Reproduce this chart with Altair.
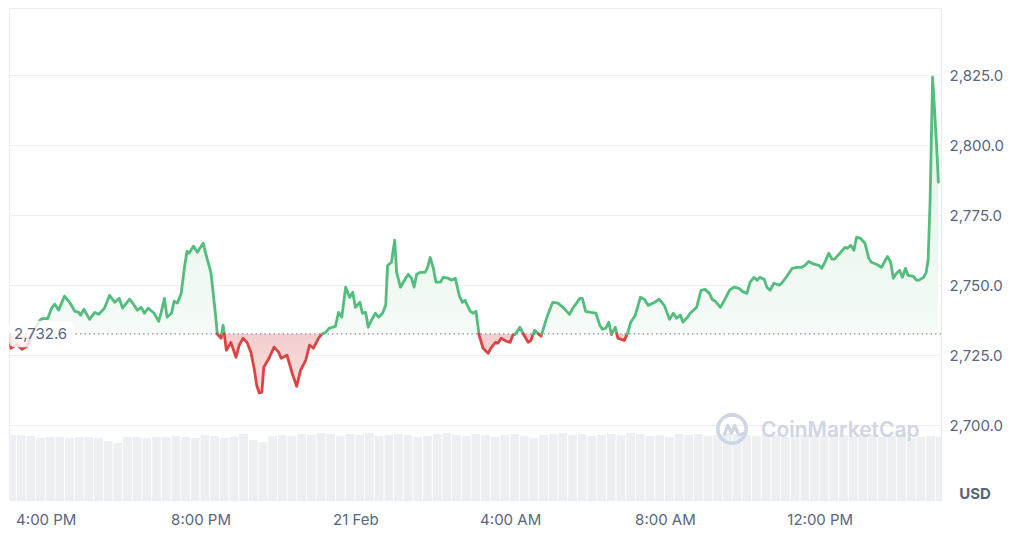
import altair as alt
import pandas as pd

# ---------------- data ----------------
BASE = 2732.6  # opening / reference price (dotted line)

# minutes after 20 Feb 15:00 (UTC)
minutes = [
    3, 6, 15, 23, 31, 37, 45, 51, 55, 63,
    69, 74, 80, 89, 97, 105, 111, 114, 119, 128,
    136, 142, 151, 159, 167, 174, 179, 190, 194, 202,
    208, 213, 219, 228, 235, 239, 244, 248, 255, 259,
    264, 270, 275, 279, 282, 289, 295, 299, 304, 310,
    316, 323, 326, 332, 335, 340, 347, 355, 360, 366,
    372, 378, 383, 387, 391, 395, 398, 406, 414, 421,
    425, 434, 442, 449, 455, 463, 469, 475, 483, 488,
    494, 499, 509, 514, 519, 525, 531, 536, 540, 547,
    551, 556, 560, 565, 571, 576, 582, 587, 590, 596,
    601, 604, 610, 618, 622, 627, 631, 635, 641, 648,
    652, 656, 661, 665, 672, 676, 684, 689, 695, 701,
    706, 710, 718, 723, 727, 732, 738, 746, 750, 757,
    761, 766, 774, 780, 784, 789, 795, 800, 808, 812,
    818, 823, 828, 834, 838, 846, 854, 862, 872, 877,
    883, 888, 892, 897, 905, 913, 919, 923, 928, 933,
    937, 943, 947, 957, 962, 967, 974, 982, 988, 994,
    1004, 1011, 1019, 1027, 1033, 1038, 1044, 1048, 1055, 1059,
    1069, 1076, 1082, 1089, 1093, 1098, 1106, 1112, 1120, 1127,
    1135, 1140, 1147, 1152, 1158, 1163, 1167, 1174, 1178, 1183,
    1189, 1197, 1201, 1209, 1217, 1225, 1232, 1237, 1243, 1251,
    1259, 1263, 1268, 1274, 1279, 1283, 1291, 1299, 1303, 1308,
    1313, 1317, 1323, 1330, 1336, 1340, 1348, 1356, 1360, 1365,
    1370, 1374, 1379, 1384, 1388, 1393, 1397, 1405, 1410, 1414,
    1421, 1425, 1428, 1431, 1435, 1438, 1441, 1444,
]

prices = [
    2732.6, 2727.5, 2728.9, 2727.1, 2728.2, 2731.8, 2735.3, 2737.5, 2738.1, 2738.1,
    2741.8, 2743.2, 2741.1, 2746.1, 2743.9, 2740.7, 2740.3, 2739.3, 2741.4, 2737.8,
    2740.3, 2739.6, 2741.8, 2746.4, 2743.9, 2745.3, 2741.8, 2745.0, 2743.9, 2741.1,
    2742.1, 2740.0, 2741.8, 2740.0, 2737.1, 2740.3, 2745.3, 2738.6, 2740.0, 2744.3,
    2743.6, 2747.1, 2756.4, 2762.1, 2761.4, 2763.9, 2761.8, 2763.2, 2765.0, 2759.6,
    2754.6, 2740.0, 2732.5, 2731.1, 2735.7, 2726.8, 2729.6, 2724.3, 2728.6, 2731.1,
    2729.6, 2726.1, 2720.4, 2714.3, 2711.5, 2711.8, 2720.7, 2723.9, 2727.9, 2726.1,
    2723.9, 2725.0, 2718.6, 2713.9, 2719.6, 2723.2, 2728.6, 2727.5, 2731.1, 2732.5,
    2733.2, 2734.6, 2735.3, 2740.3, 2738.6, 2749.3, 2745.7, 2747.5, 2742.1, 2743.9,
    2740.0, 2740.3, 2735.0, 2737.5, 2740.0, 2738.6, 2740.0, 2742.8, 2757.1, 2758.2,
    2766.1, 2754.6, 2749.3, 2752.5, 2753.9, 2752.5, 2749.3, 2753.9, 2754.6, 2754.6,
    2756.4, 2759.9, 2756.0, 2751.1, 2751.1, 2752.8, 2752.5, 2751.8, 2752.5, 2746.4,
    2743.9, 2744.6, 2740.7, 2740.0, 2740.7, 2732.1, 2727.5, 2725.7, 2727.5, 2729.6,
    2729.3, 2731.1, 2730.0, 2729.6, 2732.1, 2732.8, 2735.0, 2732.8, 2729.6, 2730.3,
    2733.9, 2732.8, 2731.8, 2736.4, 2739.3, 2743.9, 2743.6, 2742.1, 2739.6, 2741.8,
    2743.6, 2745.3, 2745.3, 2740.7, 2740.3, 2740.0, 2735.7, 2734.3, 2734.6, 2736.8,
    2732.4, 2735.0, 2731.1, 2730.3, 2732.8, 2736.8, 2739.3, 2745.7, 2745.0, 2742.8,
    2743.9, 2745.0, 2742.8, 2737.8, 2740.0, 2738.2, 2739.3, 2736.8, 2738.6, 2740.0,
    2742.1, 2748.2, 2748.5, 2747.1, 2745.0, 2744.3, 2742.1, 2744.6, 2748.2, 2749.3,
    2748.9, 2747.8, 2747.1, 2751.1, 2752.8, 2751.8, 2752.8, 2752.1, 2749.3, 2748.2,
    2750.7, 2750.0, 2750.7, 2753.2, 2756.0, 2756.4, 2756.4, 2757.1, 2758.5, 2757.5,
    2757.1, 2756.0, 2758.2, 2761.4, 2759.3, 2759.3, 2761.4, 2763.5, 2763.2, 2764.3,
    2762.5, 2767.1, 2766.8, 2765.0, 2759.6, 2758.2, 2757.5, 2756.4, 2758.2, 2760.3,
    2758.2, 2752.5, 2754.3, 2755.3, 2752.8, 2756.0, 2753.5, 2753.2, 2751.8, 2751.8,
    2752.8, 2754.6, 2758.9, 2779.3, 2824.3, 2812.5, 2800.7, 2786.8,
]
assert len(minutes) == len(prices)

# volume bars, one per 15 minutes (relative units, millions)
vol_step = 15
volumes = [
    6.5, 6.5, 6.4, 6.2, 6.3, 6.3, 6.2, 6.3, 6.3, 6.2,
    5.9, 5.7, 6.3, 6.3, 6.2, 6.3, 6.3, 6.4, 6.3, 6.2,
    6.5, 6.4, 6.2, 6.3, 6.6, 6.0, 5.8, 6.4, 6.5, 6.4,
    6.6, 6.5, 6.7, 6.6, 6.4, 6.6, 6.5, 6.7, 6.4, 6.5,
    6.6, 6.5, 6.3, 6.4, 6.6, 6.7, 6.5, 6.4, 6.6, 6.5,
    6.3, 6.5, 6.6, 6.4, 6.2, 6.5, 6.6, 6.7, 6.5, 6.6,
    6.4, 6.5, 6.6, 6.5, 6.7, 6.6, 6.4, 6.5, 6.3, 6.6,
    6.5, 6.6, 6.4, 6.5, 6.7, 6.6, 6.5, 6.4, 6.6, 6.5,
    6.3, 6.5, 6.6, 6.5, 6.4, 6.6, 6.5, 6.4, 6.6, 6.5,
    6.3, 6.4, 6.5, 6.2, 6.3, 6.4, 6.3,
]

tick_minutes = [60, 300, 540, 780, 1020, 1260]
tick_labels = ["4:00 PM", "8:00 PM", "21 Feb", "4:00 AM", "8:00 AM", "12:00 PM"]
y_ticks = [2700, 2725, 2750, 2775, 2800, 2825]

X_DOMAIN = [3, 1448]
Y_DOMAIN = [2673.3, 2849]

GREEN = "#52bd7c"
RED = "#de4343"
GRAY_TXT = "#58667e"
FONT = "Inter"

# ---------------- split the series at the reference line ----------------
rows = []
seg = 0
prev = None
for i, (m, p) in enumerate(zip(minutes, prices)):
    up = p >= BASE
    if i > 0 and up != prev:
        m0, p0 = minutes[i - 1], prices[i - 1]
        mc = m0 + (BASE - p0) / (p - p0) * (m - m0)
        rows.append(dict(m=mc, price=BASE, seg=seg, dir="up" if prev else "down"))
        seg += 1
        rows.append(dict(m=mc, price=BASE, seg=seg, dir="up" if up else "down"))
    rows.append(dict(m=m, price=p, seg=seg, dir="up" if up else "down"))
    prev = up

df = pd.DataFrame(rows)
df["hi"] = df["price"].clip(lower=BASE)
df["lo"] = df["price"].clip(upper=BASE)
df["base"] = BASE

vol_df = pd.DataFrame({
    "vm": [i * vol_step for i in range(len(volumes))],
    "vm2": [i * vol_step + vol_step - 1.5 for i in range(len(volumes))],
    "vol": volumes,
})

one = pd.DataFrame({"k": [0]})  # single row for annotation marks

# ---------------- encodings ----------------
label_expr = " : ".join(
    f"datum.value == {m} ? '{lab}'" for m, lab in zip(tick_minutes, tick_labels)
) + " : ''"


def x_enc(field="m:Q"):
    return alt.X(
        field,
        scale=alt.Scale(domain=X_DOMAIN, nice=False, zero=False),
        axis=alt.Axis(values=tick_minutes, labelExpr=label_expr, title=None,
                      grid=False, labelPadding=12, labelFlush=False),
    )


y_scale = alt.Scale(domain=Y_DOMAIN, nice=False, zero=False)
y_axis = alt.Axis(orient="right", values=y_ticks, format=",.1f", title=None,
                  grid=True, gridColor="#eceff3", labelPadding=8)

green_fill = alt.Gradient(
    gradient="linear",
    stops=[alt.GradientStop(color="#dcf1e3", offset=0),
           alt.GradientStop(color="#f6fbf7", offset=1)],
    x1=0, x2=0, y1=0, y2=1,
)
red_fill = alt.Gradient(
    gradient="linear",
    stops=[alt.GradientStop(color="#f4cdcd", offset=0),
           alt.GradientStop(color="#f9e1e1", offset=1)],
    x1=0, x2=0, y1=0, y2=1,
)

volume = alt.Chart(vol_df).mark_rect(color="#edeff3", clip=True).encode(
    x=x_enc("vm:Q"),
    x2="vm2:Q",
    y=alt.Y("vol:Q", scale=alt.Scale(domain=[0, 49.2], nice=False, zero=True), axis=None),
    y2=alt.datum(0),
)

base_chart = alt.Chart(df)

area_up = base_chart.mark_area(fill=green_fill, clip=True).encode(
    x=x_enc(),
    y=alt.Y("hi:Q", scale=y_scale, axis=y_axis),
    y2="base:Q",
)
area_dn = base_chart.mark_area(fill=red_fill, clip=True).encode(
    x=x_enc(),
    y=alt.Y("lo:Q", scale=y_scale, axis=y_axis),
    y2="base:Q",
)
ref_rule = alt.Chart(one).mark_rule(
    color="#8a919e", strokeDash=[1.5, 3], strokeWidth=1.2
).encode(y=alt.datum(BASE))

lines = base_chart.mark_line(
    strokeWidth=2.8, strokeJoin="round", strokeCap="round", clip=True
).encode(
    x=x_enc(),
    y=alt.Y("price:Q", scale=y_scale, axis=y_axis),
    color=alt.Color("dir:N", scale=alt.Scale(domain=["up", "down"], range=[GREEN, RED]),
                    legend=None),
    detail="seg:N",
)

# rounded white box behind the reference-price label (custom symbol shape)
BOX_SHAPE = ("M-0.82,-0.4 Q-1,-0.4 -1,-0.22 L-1,0.22 Q-1,0.4 -0.82,0.4 "
             "L0.82,0.4 Q1,0.4 1,0.22 L1,-0.22 Q1,-0.4 0.82,-0.4 Z")
label_box = alt.Chart(one).mark_point(
    shape=BOX_SHAPE, size=66 * 66, filled=True, fill="white", fillOpacity=0.8,
    strokeWidth=0, opacity=1,
).encode(x=alt.value(33), y=alt.datum(BASE))
label_txt = alt.Chart(one).mark_text(
    align="left", baseline="middle", fontSize=15, font=FONT, color=GRAY_TXT
).encode(
    x=alt.value(5), y=alt.datum(BASE), text=alt.value(f"{BASE:,.1f}"),
)

wm_ring = alt.Chart(one).mark_point(
    shape="circle", size=800, filled=False, stroke="#cfd6e3", strokeWidth=3.6, opacity=1
).encode(x=alt.value(723), y=alt.value(421))
wm_wave = alt.Chart(one).mark_point(
    shape="M-0.55,0.4 L-0.3,-0.25 L-0.05,0.3 L0.2,-0.25 L0.42,0.3 Q0.55,0.55 0.8,0.3",
    size=800, filled=False, stroke="#cfd6e3", strokeWidth=3.2, opacity=1,
    strokeJoin="round", strokeCap="round",
).encode(x=alt.value(723), y=alt.value(421))
wm_text = alt.Chart(one).mark_text(
    align="left", baseline="alphabetic", fontSize=21, fontWeight=600,
    font=FONT, color="#cfd6e3",
).encode(x=alt.value(752), y=alt.value(429), text=alt.value("CoinMarketCap"))

usd = alt.Chart(one).mark_text(
    align="center", baseline="middle", fontSize=15, fontWeight="bold",
    font=FONT, color=GRAY_TXT,
).encode(x=alt.value(966), y=alt.value(486), text=alt.value("USD"))

price_layers = alt.layer(
    wm_ring, wm_wave, wm_text,
    area_up, area_dn, ref_rule, lines, label_box, label_txt, usd,
)

chart = alt.layer(volume, price_layers).resolve_scale(
    y="independent"
).properties(
    width=932, height=492,
    padding={"left": 0, "top": 0, "right": 4, "bottom": 0},
).configure_view(
    stroke="#e9ecf0", strokeWidth=1,
).configure_axis(
    labelFont=FONT, labelFontSize=15, labelColor=GRAY_TXT,
    domain=False, ticks=False,
)

chart.save("out.html", embed_options={"renderer": "svg", "actions": False})
